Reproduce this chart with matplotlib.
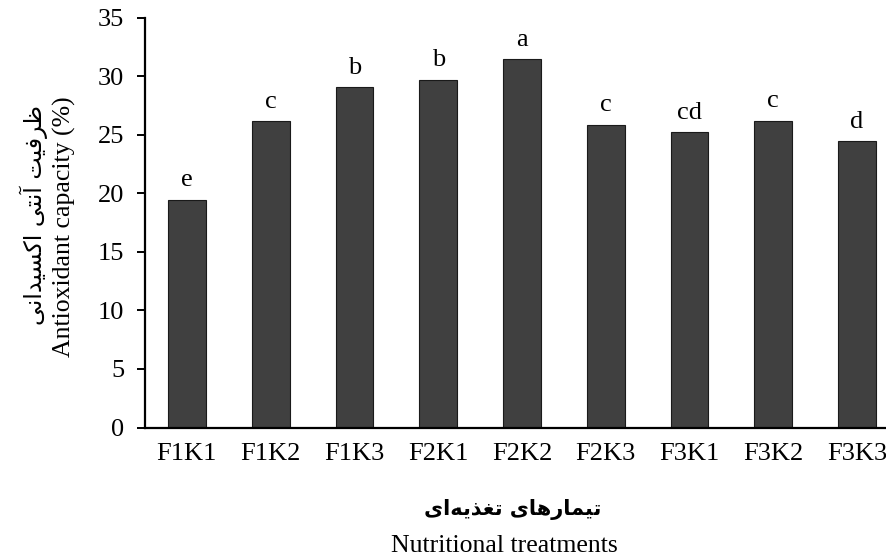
import matplotlib
matplotlib.use("Agg")
import matplotlib.pyplot as plt

# Treatment means and significance letters
treatments = ["F1K1", "F1K2", "F1K3", "F2K1", "F2K2", "F2K3", "F3K1", "F3K2", "F3K3"]
capacity = [19.45, 26.15, 29.05, 29.7, 31.45, 25.85, 25.2, 26.2, 24.45]
letters = ["e", "c", "b", "b", "a", "c", "cd", "c", "d"]
y_ticks = [0, 5, 10, 15, 20, 25, 30, 35]

# Persian labels, written as Arabic presentation forms in visual order
fa_ylabel = ("\uFBFD\uFEE7\uFE8D\uFEAA\uFBFF\uFEB4\uFB90\uFE8D" + " "
             + "\uFBFD\uFE98\uFEE7\uFE81" + " "
             + "\uFE96\uFBFF\uFED3\uFEAE\uFEC7")
fa_xlabel = ("\uFBFC\uFE8D\uFEEA\uFBFE\uFEAC\uFED0\uFE97" + " "
             + "\uFBFC\uFE8E\uFEEB\uFEAD\uFE8E\uFEE4\uFBFF\uFE97")
en_ylabel = "Antioxidant capacity (%)"
en_xlabel = "Nutritional treatments"

plt.rcParams["font.family"] = ["Liberation Serif", "DejaVu Sans"]

fig = plt.figure(figsize=(8.86, 5.58), dpi=100)
ax = fig.add_axes([145 / 886, 1 - 427.5 / 558, (899 - 145) / 886, (427.5 - 17.5) / 558])

x = range(len(treatments))
bars = ax.bar(x, capacity, width=0.45, color="#404040", edgecolor="#1a1a1a", linewidth=0.8)

for xi, v, lab in zip(x, capacity, letters):
    ax.annotate(lab, (xi, v), xytext=(0, 9.5), textcoords="offset points",
                ha="center", va="baseline", fontsize=19)

ax.set_xlim(-0.5, len(treatments) - 0.5)
ax.set_ylim(0, 35)
ax.set_yticks(y_ticks)
ax.set_xticks(list(x))
ax.set_xticklabels(treatments)

for side in ("top", "right"):
    ax.spines[side].set_visible(False)
for side in ("left", "bottom"):
    ax.spines[side].set_linewidth(1.6)
    ax.spines[side].set_color("black")

ax.tick_params(axis="y", direction="out", length=6, width=1.4, pad=9, labelsize=19)
ax.tick_params(axis="x", length=0, pad=11, labelsize=19)

# Axis titles: Persian line above/left of the English line
fig.text(34 / 886, 1 - 215 / 558, fa_ylabel, rotation=90, ha="center", va="center",
         fontsize=17, family="DejaVu Sans")
fig.text(64 / 886, 1 - 227 / 558, en_ylabel, rotation=90, ha="center", va="center",
         fontsize=18.5)
fig.text(513 / 886, 1 - 509 / 558, fa_xlabel, ha="center", va="center",
         fontsize=15, family="DejaVu Sans", fontweight="bold")
fig.text(504 / 886, 1 - 546 / 558, en_xlabel, ha="center", va="center", fontsize=18.5)

fig.savefig("out.png", dpi=100)
